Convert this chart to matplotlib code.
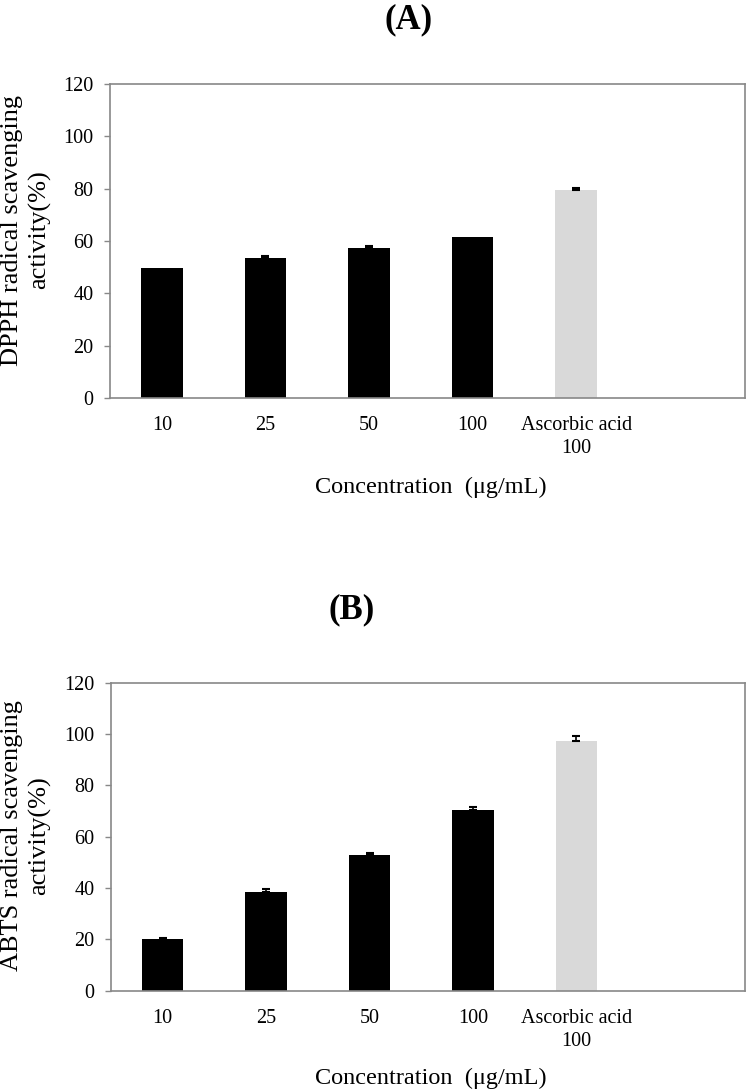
import numpy as np
import matplotlib
matplotlib.use('Agg')
import matplotlib.pyplot as plt

plt.rcParams['font.family'] = ['Liberation Serif', 'DejaVu Serif']

categories = ['10', '25', '50', '100', 'Ascorbic acid\n100']
dpph = [49.8, 53.4, 57.2, 61.5, 79.6]
dpph_err = [0.0, 0.7, 0.7, 0.0, 0.7]
abts = [20.0, 38.6, 52.7, 70.5, 97.3]
abts_err = [0.6, 1.1, 1.0, 1.2, 1.9]
colors = ['black', 'black', 'black', 'black', '#d9d9d9']

W, H = 747, 1091
fig = plt.figure(figsize=(W/100, H/100), dpi=100)

def panel(rect, vals, errs, ylab, title, title_xy, ylab_xy, xlab_y):
    ax = fig.add_axes(rect)
    x = np.arange(len(vals))
    ax.bar(x, vals, width=0.4, color=colors, edgecolor='none', zorder=2)
    e = np.array(errs)
    m = e > 0
    ax.errorbar(x[m], np.array(vals)[m], yerr=[np.zeros(m.sum()), e[m]], fmt='none',
                ecolor='black', elinewidth=1.2, capsize=3, capthick=1.5, zorder=3)
    ax.set_xlim(-0.5, 5.63)
    ax.set_ylim(0, 120)
    ax.set_yticks(range(0, 121, 20))
    ax.set_xticks(x)
    ax.set_xticklabels(categories, fontsize=14.5, linespacing=1.3)
    ax.tick_params(axis='y', labelsize=14.5, length=4, width=1, color='#888888',
                   direction='out', pad=8)
    ax.tick_params(axis='x', length=0, pad=13)
    for s in ax.spines.values():
        s.set_color('#888888')
        s.set_linewidth(1.2)
    fig.text(ylab_xy[0]/W, 1 - ylab_xy[1]/H, ylab, rotation=90, ha='center',
             va='center', fontsize=19, linespacing=1.3, multialignment='center')
    fig.text(title_xy[0]/W, 1 - title_xy[1]/H, title, ha='center', va='center',
             fontsize=25, fontweight='bold')
    fig.text(431/W, 1 - xlab_y/H, 'Concentration  (\u03bcg/mL)', ha='center',
             va='center', fontsize=17.5)
    return ax

panel([110/W, 1 - 398/H, 635/W, 314/H], dpph, dpph_err,
      'DPPH radical scavenging\nactivity(%)', '(A)', (409, 20), (26, 230), 487)
panel([111/W, 1 - 990.7/H, 634/W, 308/H], abts, abts_err,
      'ABTS radical scavenging\nactivity(%)', '(B)', (352, 610), (26, 836), 1078)

fig.savefig('out.png', dpi=100)
